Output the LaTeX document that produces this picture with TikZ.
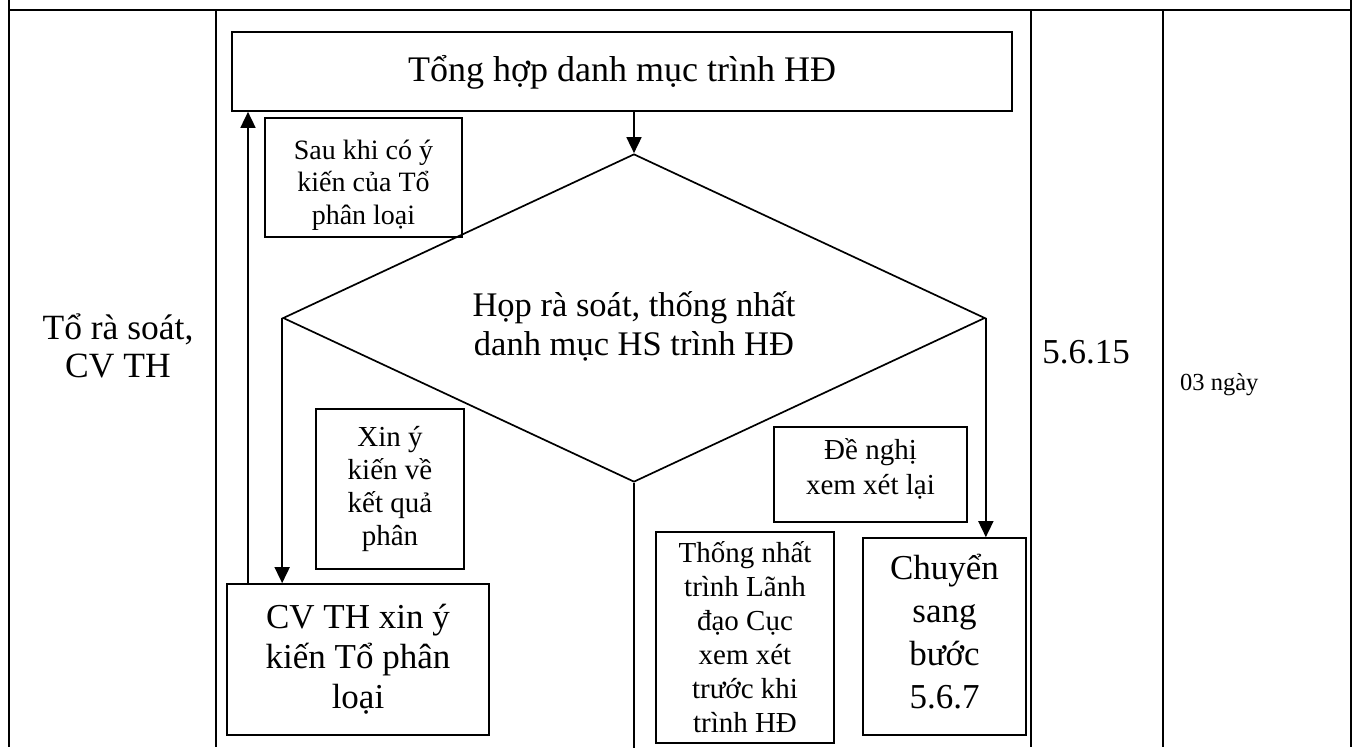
\documentclass[tikz,border=0pt]{standalone}
\usepackage{fontspec}
\setmainfont{Liberation Serif}
\usetikzlibrary{arrows.meta,shapes.geometric}
\begin{document}
\begin{tikzpicture}[x=1pt,y=-1pt,
  line/.style={line width=1.7pt},
  grid/.style={line width=1.8pt},
  box/.style={draw, line width=1.7pt, rectangle, inner sep=0pt, align=center},
  arr/.style={line width=1.7pt, -{Triangle[length=16pt,width=15pt]}}]
\useasboundingbox (0,0) rectangle (1359,747);
\fill[white] (0,0) rectangle (1359,747);
\clip (0,0) rectangle (1359,747);
% table lines
\draw[grid] (9,0) -- (9,747);
\draw[grid] (1351,0) -- (1351,747);
\draw[grid] (9,10) -- (1351,10);
\draw[grid] (216,10) -- (216,747);
\draw[grid] (1031,10) -- (1031,747);
\draw[grid] (1163,10) -- (1163,747);
% column texts
\node[align=center, inner sep=0pt, font=\fontsize{35.5}{38}\selectfont] (who) at (118,346) {Tổ rà soát,\\CV TH};
\node[anchor=base, inner sep=0pt, font=\fontsize{35}{40}\selectfont] (code) at (1086,363) {5.6.15};
\node[anchor=base west, inner sep=0pt, font=\fontsize{24.5}{28}\selectfont] (days) at (1180,390) {03 ngày};
% flowchart
\node[box, minimum width=780pt, minimum height=79pt, font=\fontsize{36}{41}\selectfont, text height=33pt, text depth=14pt] (tong) at (622,71.5) {Tổng hợp danh mục trình HĐ};
\node[diamond, aspect=2.14, draw, line width=1.7pt, minimum width=702pt, minimum height=328pt, inner sep=0pt, align=center, font=\fontsize{34.5}{39}\selectfont] (hop) at (634,318) {\rule{0pt}{41pt}Họp rà soát, thống nhất\\danh mục HS trình HĐ};
\node[box, minimum width=197pt, minimum height=119pt, font=\fontsize{28}{32.5}\selectfont] (sau) at (363.5,177.5) {\rule{0pt}{34pt}Sau khi có ý\\kiến của Tổ\\phân loại};
\node[box, minimum width=148pt, minimum height=160pt, font=\fontsize{29}{33.3}\selectfont] (xin) at (390,489) {Xin ý\\kiến về\\kết quả\\phân};
\node[box, minimum width=262pt, minimum height=151pt, font=\fontsize{35}{40}\selectfont] (cvth) at (358,659.5) {CV TH xin ý\\kiến Tổ phân\\loại};
\node[box, minimum width=193pt, minimum height=95pt, font=\fontsize{29}{35}\selectfont] (dn) at (870.5,474.5) {Đề nghị\\xem xét lại\rule[-16pt]{0pt}{16pt}};
\node[box, minimum width=163pt, minimum height=197pt, font=\fontsize{35}{43}\selectfont] (chuyen) at (944.5,636.5) {Chuyển\\sang\\bước\\5.6.7\rule[-10pt]{0pt}{10pt}};
\node[box, anchor=north, minimum width=178pt, inner ysep=10pt, font=\fontsize{29}{34}\selectfont] (thong) at (745,531) {Thống nhất\\trình Lãnh\\đạo Cục\\xem xét\\trước khi\\trình HĐ};
% connectors
\coordinate (upx) at (248,0);
\coordinate (bot) at (0,750);
\draw[arr] (tong.south -| hop.north) -- (hop.north);
\draw[arr] (hop.west) -- (hop.west |- cvth.north);
\draw[arr] (hop.east) -- (hop.east |- chuyen.north);
\draw[line] (hop.south) -- (hop.south |- bot);
\draw[arr] (cvth.north -| upx) -- (tong.south -| upx);
\end{tikzpicture}
\end{document}
